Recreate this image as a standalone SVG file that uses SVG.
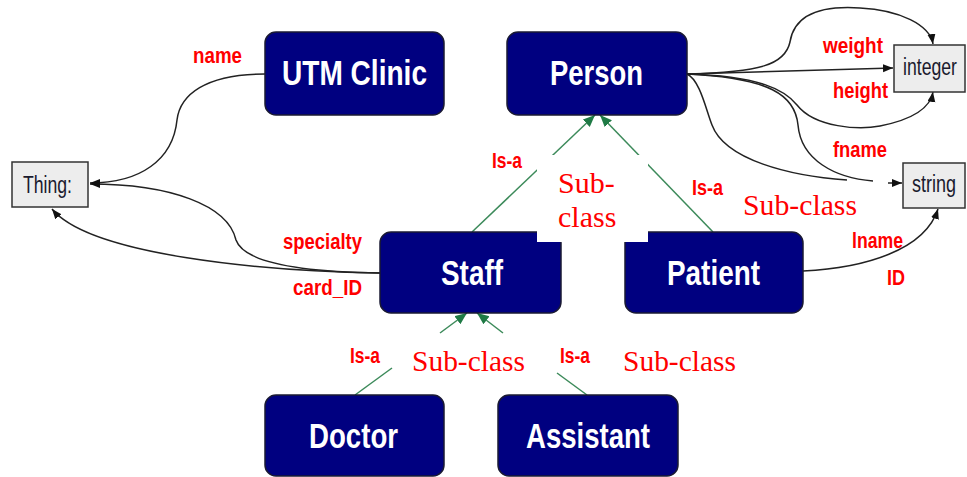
<svg xmlns="http://www.w3.org/2000/svg" width="967" height="477" viewBox="0 0 967 477">
<style>
.box{fill:#000080;stroke:#1a1a33;stroke-width:1.5}
.ntxt{font-family:"Liberation Sans",Arial,sans-serif;font-weight:bold;font-size:35px;fill:#fff}
.dt{fill:#ededed;stroke:#333;stroke-width:1.5}
.dtxt{font-family:"Liberation Sans",Arial,sans-serif;font-size:23px;fill:#1a1a2e}
.lbl{font-family:"Liberation Sans",Arial,sans-serif;font-weight:bold;font-size:22px;fill:#f00}
.sub{font-family:"Liberation Serif","Times New Roman",serif;font-size:30px;fill:#f00}
.rel{fill:none;stroke:#222;stroke-width:1.5}
.isa{fill:none;stroke:#3c8a5a;stroke-width:1.5}
</style>
<defs>
<marker id="ab" markerUnits="userSpaceOnUse" markerWidth="11" markerHeight="9" refX="10" refY="4" orient="auto"><path d="M0,0 L10,4 L0,8 z" fill="#111"/></marker>
<marker id="ag" markerUnits="userSpaceOnUse" markerWidth="13" markerHeight="11" refX="12" refY="5" orient="auto"><path d="M0,0 L12,5 L0,10 z" fill="#1f7a45"/></marker>
</defs>
<rect width="967" height="477" fill="#fff"/>
<g id="connectors">
<path class="rel" d="M265,74 C205,74 180,95 177,120 C173,160 140,183 90,183" marker-end="url(#ab)"/>
<path class="rel" d="M380,273 C310,272 245,265 236,240 C228,205 170,184 90,184" marker-end="url(#ab)"/>
<path class="rel" d="M380,273 C260,271 90,255 52,209" marker-end="url(#ab)"/>
<path class="rel" d="M687,74 L893,68" marker-end="url(#ab)"/>
<path class="rel" d="M687,74 C760,72 785,65 790,42 C795,10 830,6 860,8 C900,10 930,25 933,44" marker-end="url(#ab)"/>
<path class="rel" d="M687,74 C760,76 785,90 797,105 C815,128 860,130 880,126 C910,120 930,110 933,92" marker-end="url(#ab)"/>
<path class="rel" d="M687,74 C770,78 795,95 798,125 C801,160 835,178 873,181"/>
<path class="rel" d="M687,74 C700,80 706,110 712,125 C725,160 790,176 847,180"/>
<path class="rel" d="M888,183 L902,183" marker-end="url(#ab)"/>
<path class="rel" d="M803,271 C865,268 925,250 938,209" marker-end="url(#ab)"/>
<path class="isa" d="M472,232 L595,115" marker-end="url(#ag)"/>
<path class="isa" d="M713,232 L600,115" marker-end="url(#ag)"/>
<path class="isa" d="M355,395 L392,368"/>
<path class="isa" d="M440,333 L467,313" marker-end="url(#ag)"/>
<path class="isa" d="M587,395 L557,373"/>
<path class="isa" d="M503,333 L477,313" marker-end="url(#ag)"/>
</g>
<g id="utm-clinic"><rect class="box" x="265" y="32" width="179" height="83" rx="11"/><text class="ntxt" x="282" y="85" textLength="145" lengthAdjust="spacingAndGlyphs">UTM Clinic</text></g>
<g id="person"><rect class="box" x="507" y="32" width="180" height="83" rx="11"/><text class="ntxt" x="550" y="85" textLength="93" lengthAdjust="spacingAndGlyphs">Person</text></g>
<g id="staff"><rect class="box" x="380" y="232" width="181" height="81" rx="11"/><text class="ntxt" x="441" y="285" textLength="62" lengthAdjust="spacingAndGlyphs">Staff</text></g>
<g id="patient"><rect class="box" x="625" y="232" width="178" height="81" rx="11"/><text class="ntxt" x="667" y="285" textLength="93" lengthAdjust="spacingAndGlyphs">Patient</text></g>
<g id="doctor"><rect class="box" x="265" y="395" width="179" height="81" rx="11"/><text class="ntxt" x="309" y="448" textLength="89" lengthAdjust="spacingAndGlyphs">Doctor</text></g>
<g id="assistant"><rect class="box" x="498" y="395" width="180" height="81" rx="11"/><text class="ntxt" x="526" y="448" textLength="124" lengthAdjust="spacingAndGlyphs">Assistant</text></g>
<g id="thing"><rect class="dt" x="12" y="162" width="76" height="45"/><text class="dtxt" x="23" y="193" textLength="49" lengthAdjust="spacingAndGlyphs">Thing:</text></g>
<g id="integer"><rect class="dt" x="894" y="45" width="71" height="47"/><text class="dtxt" x="903" y="75" font-size="19" textLength="54" lengthAdjust="spacingAndGlyphs">integer</text></g>
<g id="string"><rect class="dt" x="903" y="163" width="62" height="45"/><text class="dtxt" x="912" y="192" font-size="21" textLength="44" lengthAdjust="spacingAndGlyphs">string</text></g>
<g id="labels">
<text class="lbl" x="193" y="63" textLength="49" lengthAdjust="spacingAndGlyphs">name</text>
<text class="lbl" x="823" y="53" textLength="60" lengthAdjust="spacingAndGlyphs">weight</text>
<text class="lbl" x="833" y="98" textLength="55" lengthAdjust="spacingAndGlyphs">height</text>
<text class="lbl" x="833" y="157" textLength="54" lengthAdjust="spacingAndGlyphs">fname</text>
<text class="lbl" x="852" y="248" textLength="51" lengthAdjust="spacingAndGlyphs">lname</text>
<text class="lbl" x="887" y="285" textLength="18" lengthAdjust="spacingAndGlyphs">ID</text>
<text class="lbl" x="283" y="249" textLength="79" lengthAdjust="spacingAndGlyphs">specialty</text>
<text class="lbl" x="293" y="295" textLength="69" lengthAdjust="spacingAndGlyphs">card_ID</text>
<text class="lbl" x="492" y="168" textLength="30" lengthAdjust="spacingAndGlyphs">Is-a</text>
<text class="lbl" x="692" y="195" textLength="31" lengthAdjust="spacingAndGlyphs">Is-a</text>
<text class="lbl" x="350" y="363" textLength="30" lengthAdjust="spacingAndGlyphs">Is-a</text>
<text class="lbl" x="560" y="363" textLength="30" lengthAdjust="spacingAndGlyphs">Is-a</text>
<rect x="537" y="155" width="111" height="87" fill="#fff"/>
<text class="sub" x="558" y="193">Sub-</text>
<text class="sub" x="558" y="227">class</text>
<text class="sub" x="743" y="215" textLength="114" lengthAdjust="spacingAndGlyphs">Sub-class</text>
<text class="sub" x="412" y="371" textLength="113" lengthAdjust="spacingAndGlyphs">Sub-class</text>
<text class="sub" x="623" y="371" textLength="113" lengthAdjust="spacingAndGlyphs">Sub-class</text>
</g>
</svg>
